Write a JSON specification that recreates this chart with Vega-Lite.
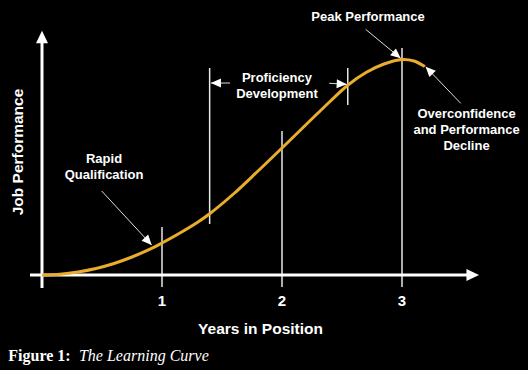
{
  "$schema": "https://vega.github.io/schema/vega-lite/v6.json",
  "width": 528,
  "height": 370,
  "autosize": {"type": "none"},
  "padding": 0,
  "background": "black",
  "config": {"view": {"stroke": null}},
  "datasets": {
    "curve": [
      {"x": 0, "y": 0}, {"x": 0.15, "y": 0.8}, {"x": 0.3, "y": 3}, {"x": 0.45, "y": 6.5},
      {"x": 0.6, "y": 11.5}, {"x": 0.75, "y": 18}, {"x": 0.9, "y": 25.8}, {"x": 1.0, "y": 32},
      {"x": 1.15, "y": 42}, {"x": 1.3, "y": 53}, {"x": 1.4, "y": 61.5}, {"x": 1.6, "y": 81.5},
      {"x": 1.8, "y": 104}, {"x": 2.0, "y": 127}, {"x": 2.15, "y": 144.5}, {"x": 2.3, "y": 162},
      {"x": 2.4, "y": 173.5}, {"x": 2.55, "y": 190}, {"x": 2.7, "y": 202.5}, {"x": 2.85, "y": 211},
      {"x": 3.0, "y": 215.5}, {"x": 3.1, "y": 214}, {"x": 3.19, "y": 208.5}
    ],
    "verticals": [
      {"x": 1, "y": 48, "y2": -12},
      {"x": 1.397, "y": 207, "y2": 51},
      {"x": 2, "y": 144, "y2": -12},
      {"x": 2.548, "y": 207, "y2": 170},
      {"x": 3, "y": 227, "y2": -12}
    ],
    "axislines": [
      {"x": -0.1, "y": 0, "x2": 3.56, "y2": 0},
      {"x": 0, "y": -13, "x2": 0, "y2": 236}
    ],
    "axistips": [
      {"id": "x", "x": 3.642, "y": 0},
      {"id": "y", "x": 0, "y": 244.3}
    ],
    "arrows": [
      {"id": "rapid", "x": 0.4975, "y": 84, "x2": 0.914, "y2": 30},
      {"id": "profleft", "x": 1.567, "y": 192, "x2": 1.408, "y2": 192},
      {"id": "profright", "x": 2.394, "y": 191.7, "x2": 2.539, "y2": 190.7},
      {"id": "peak", "x": 2.697, "y": 245.7, "x2": 2.989, "y2": 216.7},
      {"id": "over", "x": 3.489, "y": 171.7, "x2": 3.197, "y2": 208.3}
    ],
    "notes": [
      {"x": 0.517, "y": 116, "label": "Rapid\nQualification"},
      {"x": 1.958, "y": 197, "label": "Proficiency\nDevelopment"},
      {"x": 2.717, "y": 258, "label": "Peak Performance"},
      {"x": 3.5375, "y": 161, "label": "Overconfidence\nand Performance\nDecline"}
    ],
    "ticks": [
      {"x": 1, "y": -26, "label": "1"},
      {"x": 2, "y": -26, "label": "2"},
      {"x": 3, "y": -26, "label": "3"}
    ],
    "titles": [
      {"x": 1.821, "y": -54, "label": "Years in Position"}
    ],
    "ytitle": [
      {"x": -0.204, "y": 123, "label": "Job Performance"}
    ],
    "caption1": [{"x": -0.281, "y": -86, "label": "Figure 1:"}],
    "caption2": [{"x": 0.308, "y": -86, "label": "The Learning Curve"}]
  },
  "encoding": {
    "x": {"field": "x", "type": "quantitative", "scale": {"domain": [-0.35, 4.05], "nice": false, "zero": false}, "axis": null},
    "y": {"field": "y", "type": "quantitative", "scale": {"domain": [-95, 275], "nice": false, "zero": false}, "axis": null}
  },
  "layer": [
    {
      "data": {"name": "verticals"},
      "mark": {"type": "rule", "color": "#e8e8e8", "strokeWidth": 1.5},
      "encoding": {"y2": {"field": "y2"}}
    },
    {
      "data": {"name": "axislines"},
      "mark": {"type": "rule", "color": "white", "strokeWidth": 3},
      "encoding": {"x2": {"field": "x2"}, "y2": {"field": "y2"}}
    },
    {
      "data": {"name": "axistips"},
      "transform": [{"filter": "datum.id == 'x'"}],
      "mark": {"type": "point", "shape": "M0,0L1,2.1L-1,2.1Z", "filled": true, "color": "white", "opacity": 1, "size": 144, "angle": 90, "strokeWidth": 0}
    },
    {
      "data": {"name": "axistips"},
      "transform": [{"filter": "datum.id == 'y'"}],
      "mark": {"type": "point", "shape": "M0,0L1,2.1L-1,2.1Z", "filled": true, "color": "white", "opacity": 1, "size": 144, "angle": 0, "strokeWidth": 0}
    },
    {
      "data": {"name": "curve"},
      "mark": {"type": "line", "color": "#EAAC2C", "strokeWidth": 3, "interpolate": "catmull-rom"}
    },
    {
      "data": {"name": "arrows"},
      "mark": {"type": "rule", "color": "#dddddd", "strokeWidth": 1},
      "encoding": {"x2": {"field": "x2"}, "y2": {"field": "y2"}}
    },
    {
      "data": {"name": "arrows"},
      "transform": [{"filter": "datum.id == 'rapid'"}],
      "mark": {"type": "point", "shape": "M0,0L0.9,2L-0.9,2Z", "filled": true, "color": "white", "opacity": 1, "size": 100, "angle": 137, "strokeWidth": 0},
      "encoding": {"x": {"field": "x2"}, "y": {"field": "y2"}}
    },
    {
      "data": {"name": "arrows"},
      "transform": [{"filter": "datum.id == 'profleft'"}],
      "mark": {"type": "point", "shape": "M0,0L0.9,2L-0.9,2Z", "filled": true, "color": "white", "opacity": 1, "size": 100, "angle": 270, "strokeWidth": 0},
      "encoding": {"x": {"field": "x2"}, "y": {"field": "y2"}}
    },
    {
      "data": {"name": "arrows"},
      "transform": [{"filter": "datum.id == 'profright'"}],
      "mark": {"type": "point", "shape": "M0,0L0.9,2L-0.9,2Z", "filled": true, "color": "white", "opacity": 1, "size": 100, "angle": 93, "strokeWidth": 0},
      "encoding": {"x": {"field": "x2"}, "y": {"field": "y2"}}
    },
    {
      "data": {"name": "arrows"},
      "transform": [{"filter": "datum.id == 'peak'"}],
      "mark": {"type": "point", "shape": "M0,0L0.9,2L-0.9,2Z", "filled": true, "color": "white", "opacity": 1, "size": 100, "angle": 130, "strokeWidth": 0},
      "encoding": {"x": {"field": "x2"}, "y": {"field": "y2"}}
    },
    {
      "data": {"name": "arrows"},
      "transform": [{"filter": "datum.id == 'over'"}],
      "mark": {"type": "point", "shape": "M0,0L0.9,2L-0.9,2Z", "filled": true, "color": "white", "opacity": 1, "size": 100, "angle": 316, "strokeWidth": 0},
      "encoding": {"x": {"field": "x2"}, "y": {"field": "y2"}}
    },
    {
      "data": {"name": "notes"},
      "mark": {"type": "text", "color": "white", "font": "Liberation Sans", "fontWeight": "bold", "fontSize": 13, "lineBreak": "\n", "lineHeight": 16, "align": "center", "baseline": "middle"},
      "encoding": {"text": {"field": "label"}}
    },
    {
      "data": {"name": "ticks"},
      "mark": {"type": "text", "color": "white", "font": "Liberation Sans", "fontWeight": "bold", "fontSize": 15, "align": "center", "baseline": "middle"},
      "encoding": {"text": {"field": "label"}}
    },
    {
      "data": {"name": "titles"},
      "mark": {"type": "text", "color": "white", "font": "Liberation Sans", "fontWeight": "bold", "fontSize": 15.5, "align": "center", "baseline": "middle"},
      "encoding": {"text": {"field": "label"}}
    },
    {
      "data": {"name": "ytitle"},
      "mark": {"type": "text", "color": "white", "font": "Liberation Sans", "fontWeight": "bold", "fontSize": 15.5, "align": "center", "baseline": "middle", "angle": 270},
      "encoding": {"text": {"field": "label"}}
    },
    {
      "data": {"name": "caption1"},
      "mark": {"type": "text", "color": "white", "font": "Liberation Serif", "fontWeight": "bold", "fontSize": 16, "align": "left", "baseline": "alphabetic"},
      "encoding": {"text": {"field": "label"}}
    },
    {
      "data": {"name": "caption2"},
      "mark": {"type": "text", "color": "white", "font": "Liberation Serif", "fontStyle": "italic", "fontSize": 16, "align": "left", "baseline": "alphabetic"},
      "encoding": {"text": {"field": "label"}}
    }
  ]
}
